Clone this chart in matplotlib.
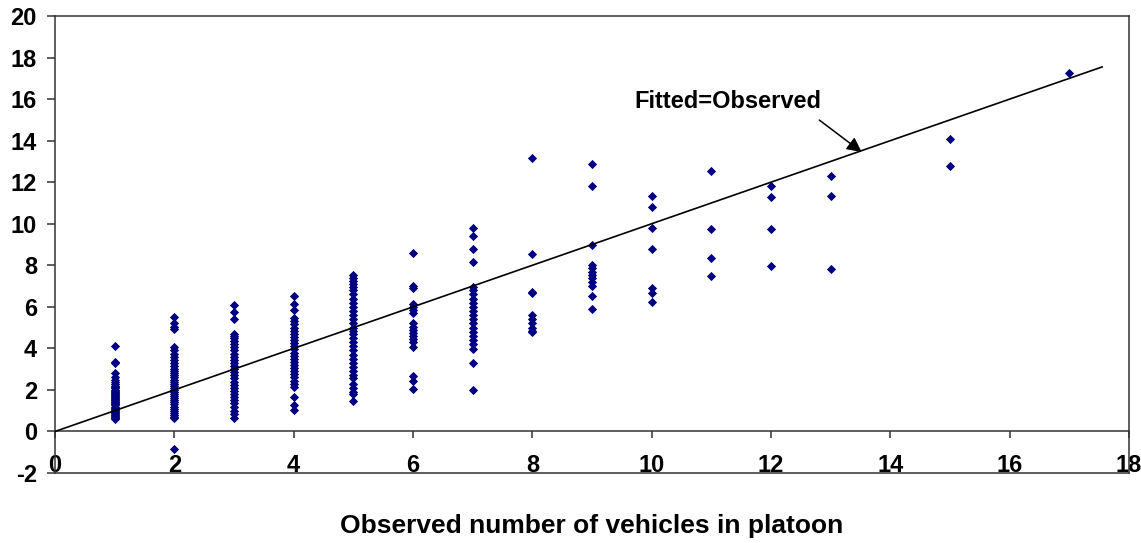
import matplotlib
matplotlib.use("Agg")
import matplotlib.pyplot as plt

# observed platoon size -> fitted values
obs_1 = [4.1, 3.35, 3.3, 2.8, 2.6, 2.5, 2.4, 2.3, 2.2, 2.15, 2.1, 2.0, 1.95, 1.9, 1.85, 1.8,
         1.75, 1.7, 1.65, 1.6, 1.55, 1.5, 1.45, 1.4, 1.35, 1.3, 1.25, 1.2, 1.15, 1.1, 1.05,
         1.0, 0.95, 0.9, 0.85, 0.8, 0.75, 0.7, 0.65, 0.6]
obs_2 = [5.5, 5.2, 5.05, 4.95, 4.05, 3.9, 3.75, 3.6, 3.45, 3.3, 3.15, 3.0, 2.9, 2.8, 2.7,
         2.6, 2.5, 2.4, 2.3, 2.2, 2.1, 2.0, 1.9, 1.8, 1.7, 1.6, 1.5, 1.4, 1.3, 1.2, 1.1,
         1.0, 0.9, 0.8, 0.7, 0.63, -0.85]
obs_3 = [6.1, 5.75, 5.4, 4.7, 4.6, 4.5, 4.35, 4.2, 4.05, 3.9, 3.75, 3.6, 3.45, 3.3, 3.15,
         3.0, 2.85, 2.7, 2.55, 2.4, 2.25, 2.1, 1.95, 1.8, 1.65, 1.5, 1.35, 1.2, 1.0, 0.85,
         0.65]
obs_4 = [6.5, 6.15, 5.85, 5.45, 5.3, 5.15, 5.0, 4.85, 4.7, 4.55, 4.4, 4.25, 4.1, 3.95, 3.8,
         3.65, 3.5, 3.35, 3.2, 3.05, 2.9, 2.75, 2.6, 2.45, 2.3, 2.15, 1.65, 1.25, 1.05]
obs_5 = [7.55, 7.4, 7.25, 7.1, 6.95, 6.8, 6.6, 6.4, 6.2, 6.0, 5.8, 5.6, 5.4, 5.2, 5.0, 4.85,
         4.7, 4.5, 4.3, 4.1, 3.9, 3.7, 3.5, 3.3, 3.1, 2.9, 2.7, 2.55, 2.3, 2.1, 1.9, 1.8,
         1.45]
obs_6 = [8.57, 7.0, 6.93, 6.15, 6.0, 5.85, 5.7, 5.2, 5.05, 4.9, 4.75, 4.6, 4.45, 4.3, 4.05,
         2.65, 2.45, 2.05]
obs_7 = [9.78, 9.4, 8.77, 8.14, 6.95, 6.8, 6.6, 6.4, 6.2, 6.0, 5.8, 5.6, 5.4, 5.2, 5.0, 4.8,
         4.6, 4.4, 4.2, 3.95, 3.3, 2.02]
obs_8 = [13.17, 8.52, 6.72, 6.65, 5.6, 5.4, 5.2, 5.0, 4.85, 4.8]
obs_9 = [12.88, 11.8, 9.0, 8.0, 7.85, 7.7, 7.55, 7.4, 7.2, 7.0, 6.5, 5.9]
obs_10 = [11.33, 10.8, 9.78, 8.77, 6.9, 6.65, 6.23]
obs_11 = [12.53, 9.73, 8.35, 7.48]
obs_12 = [11.81, 11.28, 9.73, 7.97]
obs_13 = [12.3, 11.34, 7.82]
obs_15 = [14.06, 12.79]
obs_17 = [17.28]

observed = [1, 2, 3, 4, 5, 6, 7, 8, 9, 10, 11, 12, 13, 15, 17]
fitted = [obs_1, obs_2, obs_3, obs_4, obs_5, obs_6, obs_7, obs_8, obs_9, obs_10,
          obs_11, obs_12, obs_13, obs_15, obs_17]

line_x = [0, 17.55]
line_y = [0, 17.55]

x_ticks = list(range(0, 19, 2))
y_ticks = list(range(-2, 21, 2))

FRAME = "#333333"

plt.rcParams["font.family"] = ["Liberation Sans", "DejaVu Sans"]
plt.rcParams["font.weight"] = "bold"
plt.rcParams["axes.unicode_minus"] = False

fig = plt.figure(figsize=(11.41, 5.43), dpi=100)
ax = fig.add_axes([0.0482, 0.1289, 0.9413, 0.8416])

xs, ys = [], []
for x, vals in zip(observed, fitted):
    xs += [x] * len(vals)
    ys += vals
ax.scatter(xs, ys, marker="D", s=22, color="#000080", linewidths=0, zorder=2)

ax.plot(line_x, line_y, color="black", lw=1.2, zorder=3)

ax.text(11.28, 15.9, "Fitted=Observed", ha="center", va="center", fontsize=17,
        fontweight="bold")
ax.annotate("", xy=(13.52, 13.45), xytext=(12.81, 14.99),
            arrowprops=dict(arrowstyle="-|>", color="black", lw=1.1, mutation_scale=22,
                            shrinkA=0, shrinkB=0))

ax.set_xlim(0, 18)
ax.set_ylim(-2, 20)
ax.set_xticks(x_ticks)
ax.set_yticks(y_ticks)

ax.spines["bottom"].set_position(("data", 0))
for s in ax.spines.values():
    s.set_color(FRAME)
    s.set_linewidth(1.1)
ax.plot([0, 1], [0, 0], transform=ax.transAxes, color=FRAME, lw=1.1, clip_on=False)

ax.tick_params(axis="x", direction="out", length=5, width=1.1, color=FRAME,
               labelsize=17, pad=11)
ax.tick_params(axis="y", direction="out", length=6, width=1.1, color=FRAME,
               labelsize=17, pad=7)

ax.set_xlabel("Observed number of vehicles in platoon", fontsize=19, fontweight="bold")
ax.xaxis.set_label_coords(0.5, -0.09)
ax.xaxis.label.set_va("top")

fig.savefig("out.png", dpi=100)
